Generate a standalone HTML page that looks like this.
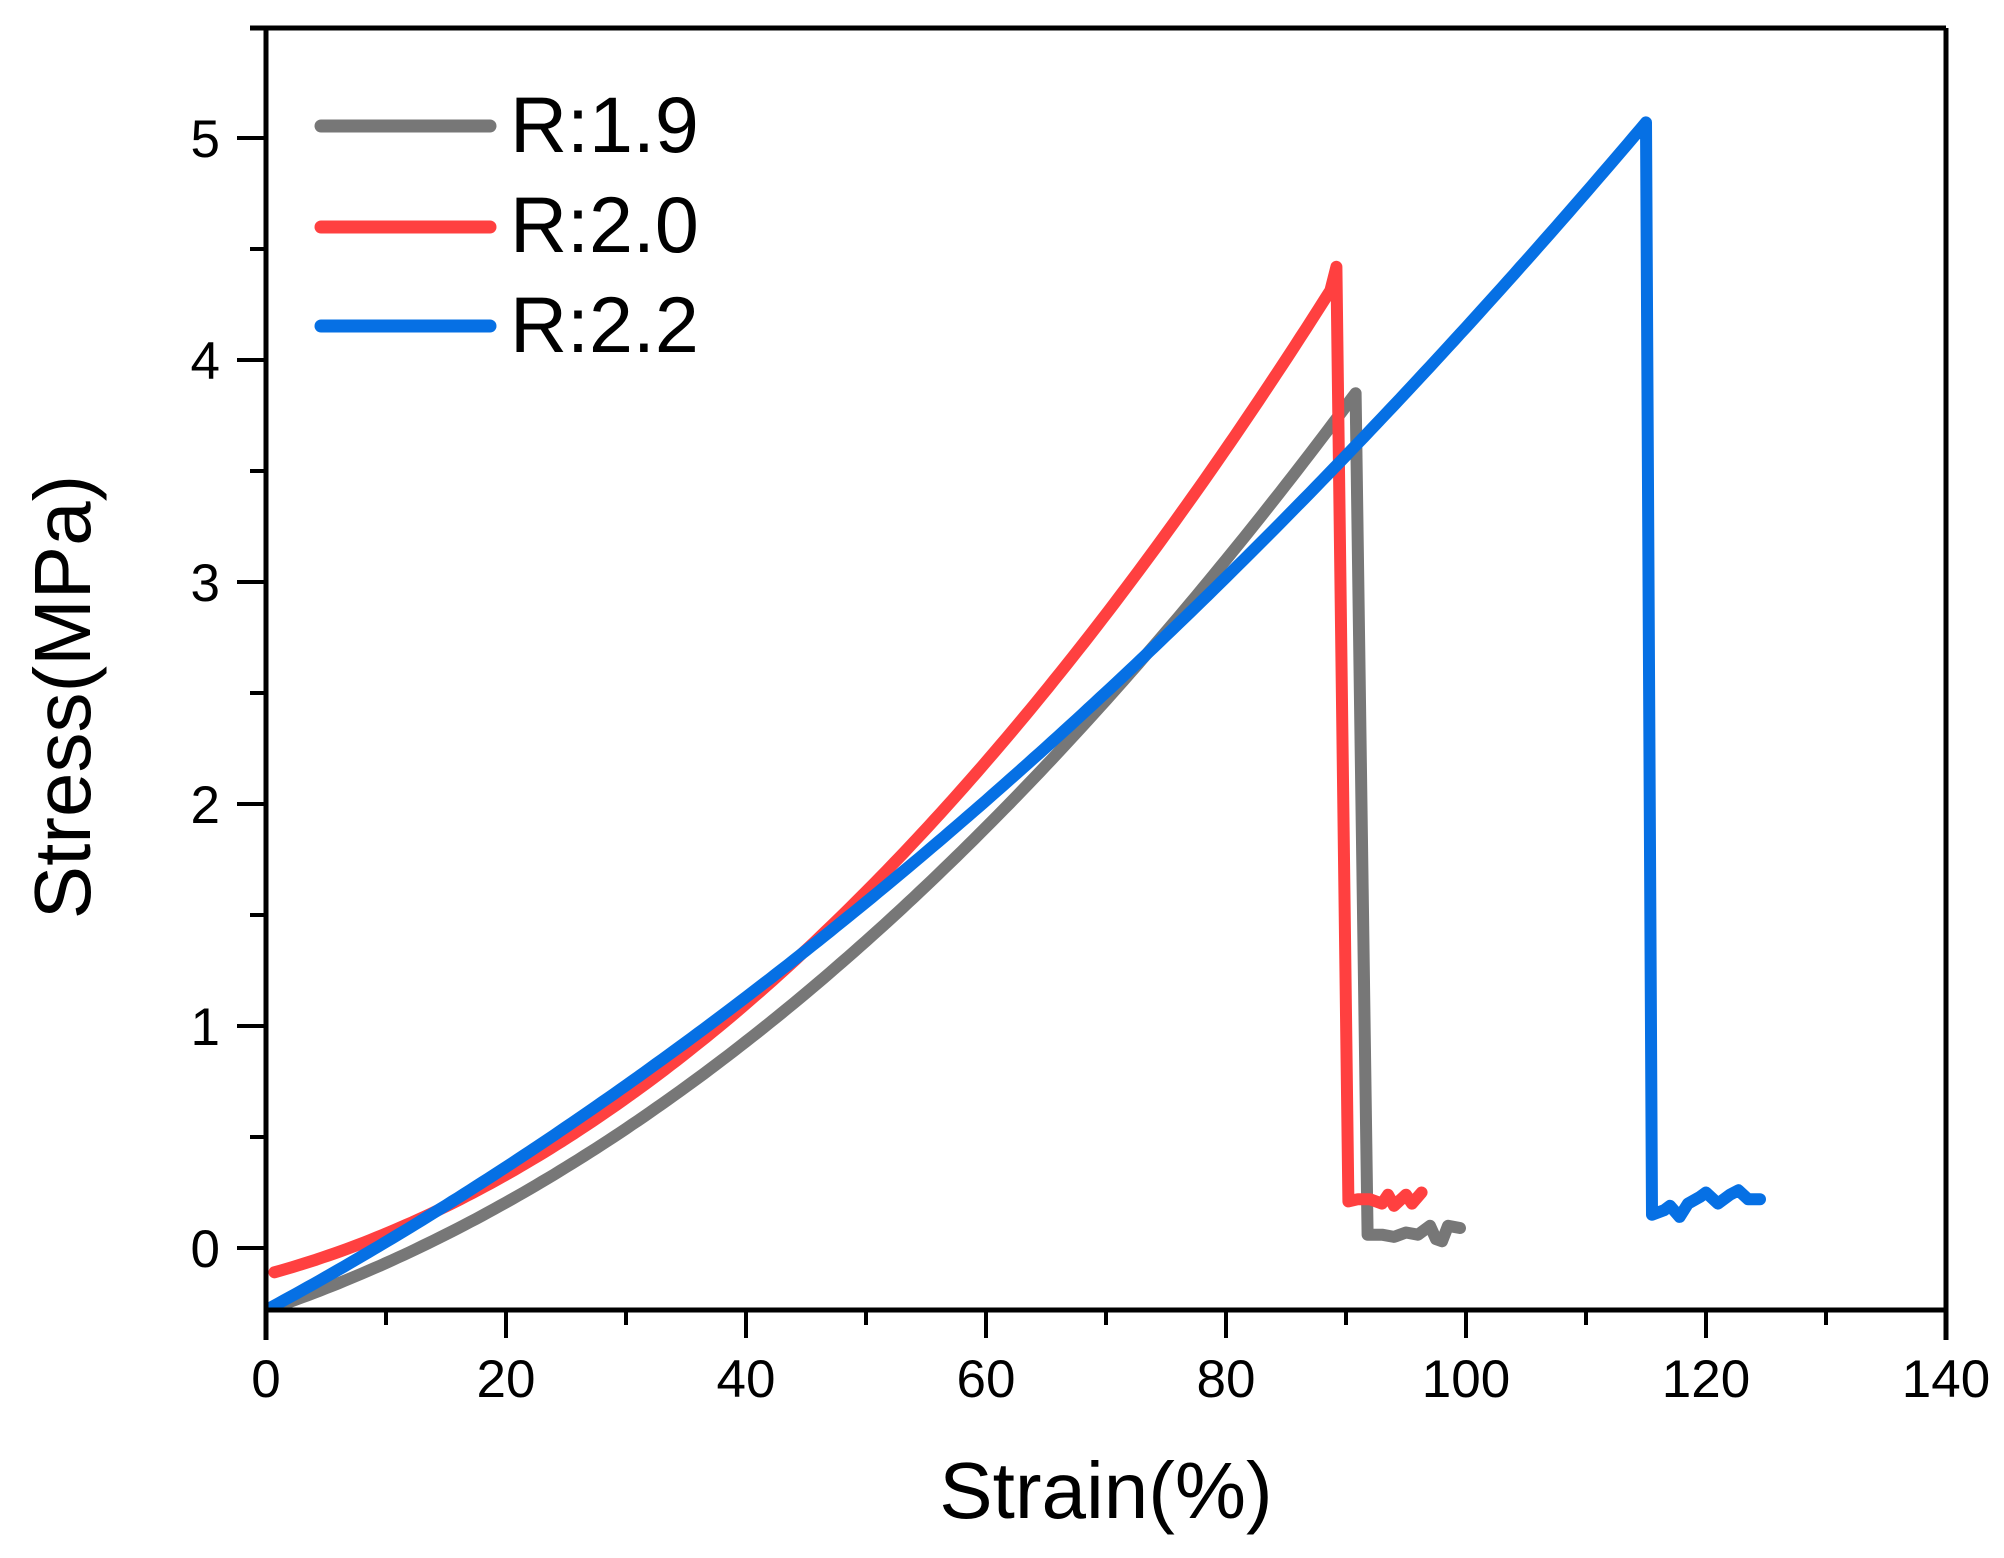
<!DOCTYPE html>
<html><head><meta charset="utf-8"><style>
html,body{margin:0;padding:0;background:#fff;}
svg{display:block;}
text{font-family:"Liberation Sans",Arial,sans-serif;fill:#000;}
</style></head><body>
<svg id="s" width="2004" height="1558" viewBox="0 0 2004 1558" xmlns="http://www.w3.org/2000/svg">
<defs><clipPath id="c"><rect x="266" y="28" width="1680" height="1282"/></clipPath></defs>
<g id="curves" clip-path="url(#c)" fill="none" stroke-width="12" stroke-linejoin="round" stroke-linecap="round"></g>
<g stroke="#000" stroke-width="5" fill="none">
<line x1="250" y1="28" x2="1946" y2="28"/>
<line x1="266" y1="28" x2="266" y2="1340"/>
<line x1="1946" y1="28" x2="1946" y2="1340"/>
<line x1="264" y1="1310" x2="1948" y2="1310"/>
</g>
<g id="ticks" stroke="#000" stroke-width="4"></g>
<g id="labels" font-size="53"></g>
<g stroke-width="13" stroke-linecap="round">
<line x1="321" y1="126" x2="490" y2="126" stroke="#777777"/>
<line x1="321" y1="227" x2="490" y2="227" stroke="#FF4040"/>
<line x1="321" y1="326" x2="490" y2="326" stroke="#0670E4"/>
</g>
<g font-size="79">
<text x="510" y="152">R:1.9</text>
<text x="510" y="252">R:2.0</text>
<text x="510" y="352">R:2.2</text>
</g>
<text x="1106" y="1518" font-size="80" text-anchor="middle">Strain(%)</text>
<text transform="translate(90,697) rotate(-90)" font-size="80" text-anchor="middle">Stress(MPa)</text>
</svg>
<script>
const NS="http://www.w3.org/2000/svg";
const X=x=>266+12*x, Y=y=>1248-222*y;
function pl(pts,col){const p=document.createElementNS(NS,"polyline");p.setAttribute("points",pts.map(q=>X(q[0]).toFixed(1)+","+Y(q[1]).toFixed(1)).join(" "));p.setAttribute("stroke",col);document.getElementById("curves").appendChild(p);}
function curve(a,b,c,x0,x1){const r=[];for(let x=x0;x<=x1+1e-9;x+=0.5)r.push([x,a+b*x+c*x*x]);return r;}
let g=curve(-0.28,0.01825,0.0003,0,90.5);g.push([90.8,3.85],[91.8,0.06],[93,0.06],[94,0.05],[95,0.07],[96,0.06],[97,0.1],[97.5,0.04],[98,0.03],[98.5,0.1],[99.5,0.09]);
pl(g,"#777777");
let r=curve(-0.12,0.0145,0.0004,0.7,89);r.push([89.2,4.42],[90.2,0.21],[91,0.22],[92,0.22],[93,0.2],[93.5,0.24],[94,0.19],[95,0.24],[95.5,0.2],[96.3,0.25]);
pl(r,"#FF4040");
let b=curve(-0.28,0.02924,0.0001503,0,115);b.push([115.5,0.15],[116.5,0.17],[117,0.19],[117.8,0.14],[118.5,0.2],[119.5,0.23],[120,0.25],[121,0.2],[122,0.24],[122.7,0.26],[123.5,0.22],[124.5,0.22]);
pl(b,"#0670E4");
const t=document.getElementById("ticks"),L=document.getElementById("labels");
function ln(x1,y1,x2,y2){const l=document.createElementNS(NS,"line");l.setAttribute("x1",x1);l.setAttribute("y1",y1);l.setAttribute("x2",x2);l.setAttribute("y2",y2);t.appendChild(l);}
function tx(x,y,s,anc){const e=document.createElementNS(NS,"text");e.setAttribute("x",x);e.setAttribute("y",y);e.setAttribute("text-anchor",anc);e.textContent=s;L.appendChild(e);}
for(let v=0;v<=140;v+=10){const major=v%20==0;ln(X(v),1310,X(v),major?1338:1325);if(major)tx(X(v),1397,String(v),"middle");}
for(let v=0;v<=5.01;v+=0.5){const major=Math.abs(v-Math.round(v))<1e-6;const y=Y(v);ln(major?237:250,y,266,y);if(major)tx(220,y+19,String(Math.round(v)),"end");}
</script>
</body></html>
